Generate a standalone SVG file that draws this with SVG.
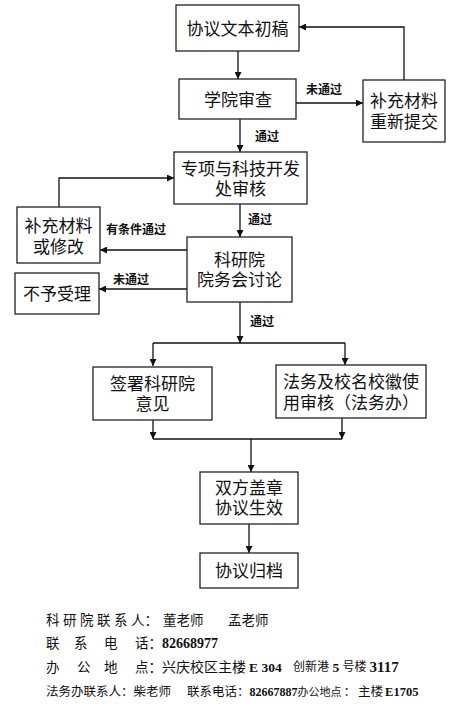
<svg xmlns="http://www.w3.org/2000/svg" width="462" height="707" viewBox="0 0 462 707">
<style>
.box{fill:#fff;stroke:#222;stroke-width:1.3}
.nt{font-family:"Liberation Sans","Noto Sans CJK SC",sans-serif;font-size:17px;fill:#111;text-anchor:middle;dominant-baseline:central}
.lb{font-family:"Liberation Sans","Noto Sans CJK SC",sans-serif;font-size:12px;font-weight:bold;fill:#111;dominant-baseline:central}
.ln{fill:none;stroke:#111;stroke-width:1.3}
.ft{font-family:"Liberation Serif","Noto Sans CJK SC",serif;font-size:13.5px;fill:#111;dominant-baseline:central}
.f4{font-size:12.5px}
.num{font-family:"Liberation Serif",serif;font-weight:bold}
</style>
<defs>
<marker id="ah" viewBox="0 0 10 10" refX="10" refY="5" markerWidth="7" markerHeight="7" markerUnits="userSpaceOnUse" orient="auto">
<path d="M0,0 L10,5 L0,10 z" fill="#111"/>
</marker>
</defs>
<rect width="462" height="707" fill="#fff"/>
<g id="connectors">
<path class="ln" d="M238,51 V79" marker-end="url(#ah)"/>
<path class="ln" d="M296,103 H363" marker-end="url(#ah)"/>
<path class="ln" d="M404,80 V27 H299" marker-end="url(#ah)"/>
<path class="ln" d="M240,119 V152" marker-end="url(#ah)"/>
<path class="ln" d="M59,207 V178 H174" marker-end="url(#ah)"/>
<path class="ln" d="M240,204 V237" marker-end="url(#ah)"/>
<path class="ln" d="M187,250 H100" marker-end="url(#ah)"/>
<path class="ln" d="M187,289 H99" marker-end="url(#ah)"/>
<path class="ln" d="M240,302 V343" marker-end="url(#ah)"/>
<path class="ln" d="M153,343 H345"/>
<path class="ln" d="M153,343 V366" marker-end="url(#ah)"/>
<path class="ln" d="M345,343 V365" marker-end="url(#ah)"/>
<path class="ln" d="M153,420 V439" marker-end="url(#ah)"/>
<path class="ln" d="M342,418 V439" marker-end="url(#ah)"/>
<path class="ln" d="M153,439 H342"/>
<path class="ln" d="M251,439 V472" marker-end="url(#ah)"/>
<path class="ln" d="M249,524 V553" marker-end="url(#ah)"/>
<text class="lb" x="306" y="90">未通过</text>
<text class="lb" x="255" y="137">通过</text>
<text class="lb" x="248" y="220">通过</text>
<text class="lb" x="106" y="230">有条件通过</text>
<text class="lb" x="113" y="280">未通过</text>
<text class="lb" x="250" y="322">通过</text>
</g>
<g id="n1"><rect class="box" x="176" y="5" width="123" height="46"/><text class="nt" x="237.5" y="29">协议文本初稿</text></g>
<g id="n2"><rect class="box" x="179" y="79" width="117" height="40"/><text class="nt" x="238" y="100">学院审查</text></g>
<g id="n3"><rect class="box" x="363" y="80" width="82" height="62"/><text class="nt" x="404" y="101">补充材料</text><text class="nt" x="404" y="122">重新提交</text></g>
<g id="n4"><rect class="box" x="174" y="152" width="133" height="52"/><text class="nt" x="240.5" y="169">专项与科技开发</text><text class="nt" x="240.5" y="189">处审核</text></g>
<g id="n5"><rect class="box" x="17" y="207" width="83" height="56"/><text class="nt" x="58.5" y="226">补充材料</text><text class="nt" x="58.5" y="247">或修改</text></g>
<g id="n6"><rect class="box" x="187" y="237" width="105" height="65"/><text class="nt" x="239.5" y="260">科研院</text><text class="nt" x="239.5" y="280">院务会讨论</text></g>
<g id="n7"><rect class="box" x="15" y="273" width="84" height="41"/><text class="nt" x="57" y="294">不予受理</text></g>
<g id="n8"><rect class="box" x="93" y="367" width="119" height="53"/><text class="nt" x="152.5" y="384">签署科研院</text><text class="nt" x="152.5" y="404">意见</text></g>
<g id="n9"><rect class="box" x="276" y="365" width="150" height="53"/><text class="nt" x="351" y="382">法务及校名校徽使</text><text class="nt" x="351" y="403">用审核（法务办）</text></g>
<g id="n10"><rect class="box" x="200" y="472" width="98" height="52"/><text class="nt" x="249" y="488">双方盖章</text><text class="nt" x="249" y="508">协议生效</text></g>
<g id="n11"><rect class="box" x="200" y="553" width="98" height="35"/><text class="nt" x="249" y="571">协议归档</text></g>
<g id="footer">
<text class="ft" y="620"><tspan x="46">科</tspan><tspan x="63">研</tspan><tspan x="80">院</tspan><tspan x="97">联</tspan><tspan x="114">系</tspan><tspan x="131">人：</tspan><tspan x="163">董老师</tspan><tspan x="228">孟老师</tspan></text>
<text class="ft" y="643"><tspan x="46">联</tspan><tspan x="74">系</tspan><tspan x="104">电</tspan><tspan x="135">话：</tspan><tspan class="num" style="font-size:14px">82668977</tspan></text>
<text class="ft" y="667"><tspan x="46">办</tspan><tspan x="77">公</tspan><tspan x="104">地</tspan><tspan x="135">点：</tspan><tspan style="font-size:14px">兴庆校区主楼</tspan><tspan class="num" dx="3">E 304</tspan><tspan x="293" style="font-size:12px">创新港</tspan><tspan class="num"> 5 </tspan><tspan style="font-size:12px">号楼</tspan><tspan class="num" dx="3" style="font-size:15px">3117</tspan></text>
<text class="ft f4" y="692"><tspan x="46">法务办联系人：柴老师</tspan><tspan x="187">联系电话：</tspan><tspan class="num" style="font-size:12px">82667887</tspan><tspan style="font-size:11px">办公地点</tspan><tspan dx="2">：</tspan><tspan dx="2">主楼</tspan><tspan class="num" dx="2" style="font-size:12.5px">E1705</tspan></text>
</g>
</svg>
